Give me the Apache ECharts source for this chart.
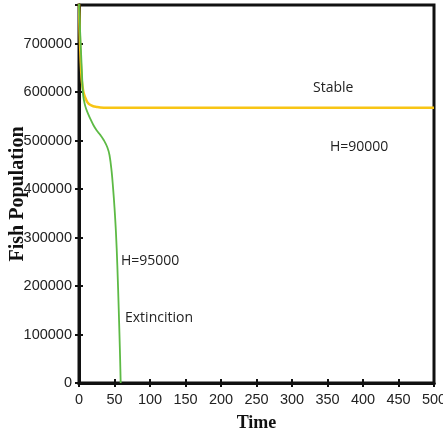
<!DOCTYPE html>
<html><head><meta charset="utf-8">
<script src="https://cdn.jsdelivr.net/npm/echarts@6/dist/echarts.min.js"></script>
<style>html,body{margin:0;padding:0;background:#fff}#c{width:443px;height:430px}</style>
</head><body><div id="c"></div>
<script>
const xTicks = [0,50,100,150,200,250,300,350,400,450,500];
const yTicks = [0,100000,200000,300000,400000,500000,600000,700000];
const stableH90000 = [[0,785000],[1,722000],[2,678000],[3,646000],[4,623000],[6,602000],[8,592000],[10,585000],[12,579000],[15,574500],[20,571000],[25,569500],[30,568500],[40,568000],[100,568000],[500,568000]];
const extinctH95000 = [[0,785000],[1,745000],[2,712000],[3,678000],[4,645000],[5,612000],[6,592000],[8,576000],[10,566000],[13,555000],[16,545000],[20,533000],[25,521000],[30,512000],[35,501000],[40,486000],[43,470000],[46,436000],[48,402000],[50,362000],[52,312000],[54,242000],[56,150000],[57,100000],[58,45000],[58.7,0]];
const labels = {stable:'Stable', h1:'H=90000', h2:'H=95000', ext:'Extincition'};

const chart = echarts.init(document.getElementById('c'));
const tickFont = {fontFamily:'Liberation Sans, Arial, sans-serif', fontSize:14.5, color:'#222'};
const annFont = {fontFamily:'Open Sans, sans-serif', fontSize:14, fill:'#222'};
chart.setOption({
  animation:false,
  grid:{left:79,right:9,top:5,bottom:47,show:true,borderColor:'#111',borderWidth:3,containLabel:false,outerBoundsMode:'none'},
  xAxis:[{type:'value',min:0,max:500,interval:50,name:'Time',nameLocation:'middle',nameGap:31,nameMoveOverlap:false,
    nameTextStyle:{fontFamily:'Liberation Serif, Times New Roman, serif',fontWeight:'bold',fontSize:18,color:'#111'},
    axisLine:{lineStyle:{color:'#111',width:3}},axisTick:{inside:true,length:4,lineStyle:{color:'#111',width:2}},
    axisLabel:Object.assign({margin:9,formatter:v=>xTicks.includes(v)?String(v):''},tickFont),splitLine:{show:false}},
   {type:'value',position:'top',min:0,max:500,interval:50,axisLine:{lineStyle:{color:'#111',width:3}},
    axisTick:{inside:true,length:4,lineStyle:{color:'#111',width:2}},axisLabel:{show:false},splitLine:{show:false}}],
  yAxis:[{type:'value',min:0,max:780000,interval:100000,name:'Fish Population',nameLocation:'middle',nameGap:51,nameMoveOverlap:false,
    nameTextStyle:{fontFamily:'Liberation Serif, Times New Roman, serif',fontWeight:'bold',fontSize:20,color:'#111'},
    axisLine:{lineStyle:{color:'#111',width:3}},axisTick:{inside:true,length:4,lineStyle:{color:'#111',width:2}},
    axisLabel:Object.assign({margin:7,showMaxLabel:false,formatter:v=>yTicks.includes(v)?String(v):''},tickFont),splitLine:{show:false}},
   {type:'value',position:'right',min:0,max:780000,interval:100000,axisLine:{lineStyle:{color:'#111',width:3}},
    axisTick:{inside:true,length:4,lineStyle:{color:'#111',width:2}},axisLabel:{show:false},splitLine:{show:false}}],
  series:[
    {type:'line',data:stableH90000,showSymbol:false,smooth:0.4,lineStyle:{color:'#f8c515',width:2.5},z:2},
    {type:'line',data:extinctH95000,showSymbol:false,smooth:0.4,lineStyle:{color:'#5dba45',width:1.8},z:3}
  ],
  graphic:[
    {type:'text',left:313,top:81,style:Object.assign({text:labels.stable},annFont)},
    {type:'text',left:330,top:140,style:Object.assign({text:labels.h1},annFont)},
    {type:'text',left:121,top:254,style:Object.assign({text:labels.h2},annFont)},
    {type:'text',left:125,top:311,style:Object.assign({text:labels.ext},annFont)}
  ]
});
</script></body></html>
